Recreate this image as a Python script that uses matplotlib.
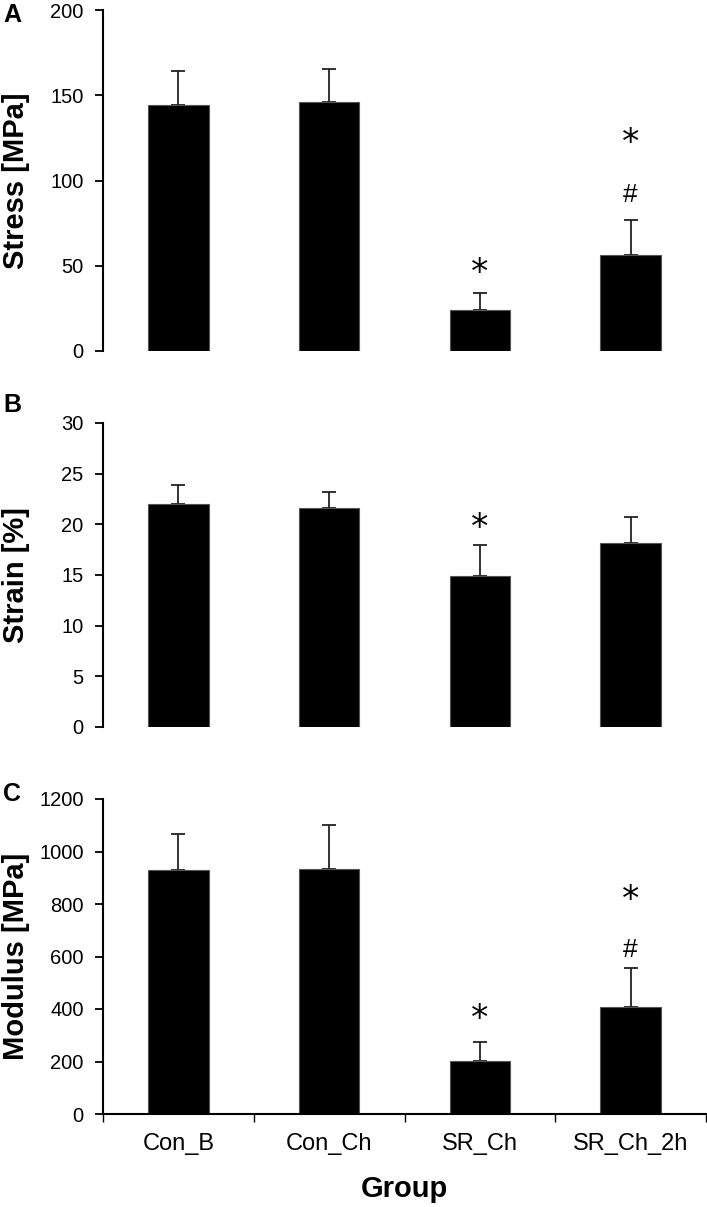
import numpy as np
import matplotlib
matplotlib.use('Agg')
import matplotlib.pyplot as plt
from matplotlib.ticker import FixedLocator, NullFormatter

plt.rcParams['font.family'] = ['Liberation Sans', 'DejaVu Sans']

# data
groups = ['Con_B', 'Con_Ch', 'SR_Ch', 'SR_Ch_2h']

stress = [144.0, 145.8, 24.0, 56.1]
stress_err = [20.4, 19.8, 9.8, 20.5]
stress_marks = [(2, 45.5, '*'), (3, 91.5, '#'), (3, 122.0, '*')]

strain = [22.0, 21.6, 14.9, 18.2]
strain_err = [1.9, 1.6, 3.1, 2.5]
strain_marks = [(2, 19.6, '*')]

modulus = [931, 933, 202, 409]
modulus_err = [136, 167, 72, 146]
modulus_marks = [(2, 362, '*'), (3, 625, '#'), (3, 815, '*')]

fig = plt.figure(figsize=(7.07, 12.07), dpi=100)

W = 707.0
H = 1207.0


def make_axes(top_px, bottom_px):
    left = 103 / W
    right = 706 / W
    return fig.add_axes([left, 1 - bottom_px / H, right - left, (bottom_px - top_px) / H])


def draw_panel(ax, vals, errs, marks, ymax, step, ylabel, show_x):
    x = np.arange(len(groups))
    ax.bar(x, vals, width=0.4, color='black', edgecolor='#555555', linewidth=0.8, zorder=2)
    ax.errorbar(x, vals, yerr=[np.zeros(len(errs)), errs], fmt='none',
                ecolor='#222222', elinewidth=1.3, capsize=5, capthick=1.3, zorder=1)
    for i, yv, s in marks:
        if s == '*':
            ax.text(i, yv, s, ha='center', va='center', fontsize=25, fontfamily='DejaVu Sans')
        else:
            ax.text(i, yv, s, ha='center', va='center', fontsize=19)
    ax.set_xlim(-0.5, len(groups) - 0.5)
    ax.set_ylim(0, ymax)
    ax.set_yticks(np.arange(0, ymax + step / 2, step))
    ax.spines['top'].set_visible(False)
    ax.spines['right'].set_visible(False)
    ax.spines['left'].set_linewidth(1.5)
    ax.tick_params(axis='y', direction='out', length=6, width=1.3, labelsize=14.5, pad=8)
    ax.set_ylabel(ylabel, fontsize=21, fontweight='bold')
    ax.yaxis.set_label_coords(-0.121, 0.5)
    if show_x:
        ax.spines['bottom'].set_linewidth(1.5)
        ax.set_xticks(x)
        ax.set_xticklabels(groups, fontsize=17)
        ax.tick_params(axis='x', which='major', length=0, pad=14)
        ax.xaxis.set_minor_locator(FixedLocator(np.arange(-0.5, len(groups), 1.0)))
        ax.xaxis.set_minor_formatter(NullFormatter())
        ax.tick_params(axis='x', which='minor', direction='out', length=6, width=1.0)
        ax.set_xlabel('Group', fontsize=21, fontweight='bold', labelpad=14)
    else:
        ax.spines['bottom'].set_visible(False)
        ax.set_xticks([])


axA = make_axes(10, 351)
draw_panel(axA, stress, stress_err, stress_marks, 200, 50, 'Stress [MPa]', False)

axB = make_axes(423, 727)
draw_panel(axB, strain, strain_err, strain_marks, 30, 5, 'Strain [%]', False)

axC = make_axes(799, 1114)
draw_panel(axC, modulus, modulus_err, modulus_marks, 1200, 200, 'Modulus [MPa]', True)

fig.text(3 / W, 1 - 15 / H, 'A', fontsize=18, fontweight='bold', va='center', ha='left')
fig.text(3 / W, 1 - 405 / H, 'B', fontsize=18, fontweight='bold', va='center', ha='left')
fig.text(3 / W, 1 - 794 / H, 'C', fontsize=18, fontweight='bold', va='center', ha='left')

fig.savefig('out.png', dpi=100)
